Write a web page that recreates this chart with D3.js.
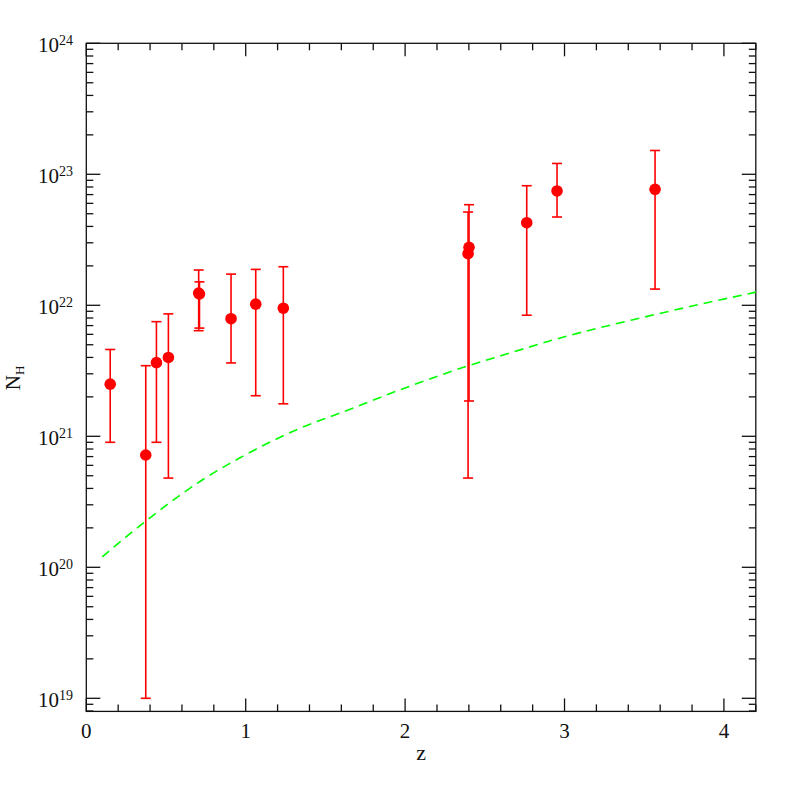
<!DOCTYPE html>
<html>
<head>
<meta charset="utf-8">
<title></title>
<script src="https://cdn.jsdelivr.net/npm/d3@7"></script>
<style>
  body { margin: 0; background: #fff; }
  .lab { font-family: "Liberation Serif", "DejaVu Serif", serif; fill: #111; }
</style>
</head>
<body>
<script>
// canvas
var width = 797, height = 797;
var plot = {left: 86.3, right: 755.8, top: 43.3, bottom: 711.4};

// data
var z    = [0.15, 0.373, 0.44, 0.515, 0.705, 0.71, 0.908, 1.063, 1.236, 2.395, 2.401, 2.763, 2.953, 3.568];
var nh   = [2.5e21, 7.2e20, 3.65e21, 4.0e21, 1.24e22, 1.22e22, 7.9e21, 1.02e22, 9.5e21, 2.48e22, 2.77e22, 4.27e22, 7.46e22, 7.68e22];
var nhLo = [9.0e20, 1.0e19, 9.0e20, 4.8e20, 6.4e21, 6.7e21, 3.63e21, 2.04e21, 1.77e21, 4.8e20, 1.86e21, 8.4e21, 4.72e22, 1.33e22];
var nhHi = [4.6e21, 3.46e21, 7.5e21, 8.6e21, 1.86e22, 1.51e22, 1.73e22, 1.88e22, 1.97e22, 5.15e22, 5.86e22, 8.18e22, 1.21e23, 1.52e23];

// dashed green curve
var curveZ  = [0.1, 0.37, 0.745, 1.0, 1.34, 1.62, 2.0, 2.4, 2.6, 3.0, 3.5, 4.2];
var curveNH = [1.2e20, 2.24e20, 4.79e20, 7.24e20, 1.15e21, 1.55e21, 2.34e21, 3.47e21, 4.12e21, 5.75e21, 8.13e21, 1.26e22];

// tick labels
var xTicks = [0, 1, 2, 3, 4];
var yExp   = [19, 20, 21, 22, 23, 24];

var svg = d3.select("body").append("svg")
    .attr("width", width)
    .attr("height", height);

var x = d3.scaleLinear().domain([0, 4.2]).range([plot.left, plot.right]);
var y = d3.scaleLog().domain([Math.pow(10, 18.9), 1e24]).range([plot.bottom, plot.top]);

// frame
svg.append("rect")
    .attr("x", plot.left).attr("y", plot.top)
    .attr("width", plot.right - plot.left)
    .attr("height", plot.bottom - plot.top)
    .attr("fill", "none").attr("stroke", "#111").attr("stroke-width", 1.3);

// ticks on all four sides
var xMinor = d3.range(0, 4.21, 0.2).filter(function(v){ return Math.abs(v - Math.round(v)) > 1e-6; });
var yMinor = [];
d3.range(18, 24).forEach(function(e){
  d3.range(2, 10).forEach(function(m){
    var v = m * Math.pow(10, e);
    if (v > y.domain()[0] && v < 1e24) yMinor.push(v);
  });
});
var yMajor = yExp.map(function(e){ return Math.pow(10, e); });

var tk = svg.append("g").attr("stroke", "#111").attr("stroke-width", 1.3);
function xt(vals, len) {
  vals.forEach(function(v){
    tk.append("line").attr("x1", x(v)).attr("x2", x(v)).attr("y1", plot.bottom).attr("y2", plot.bottom - len);
    tk.append("line").attr("x1", x(v)).attr("x2", x(v)).attr("y1", plot.top).attr("y2", plot.top + len);
  });
}
function yt(vals, len) {
  vals.forEach(function(v){
    tk.append("line").attr("y1", y(v)).attr("y2", y(v)).attr("x1", plot.left).attr("x2", plot.left + len);
    tk.append("line").attr("y1", y(v)).attr("y2", y(v)).attr("x1", plot.right).attr("x2", plot.right - len);
  });
}
xt(xTicks, 13); xt(xMinor, 7);
yt(yMajor, 14); yt(yMinor, 7);

// tick labels
svg.selectAll(".xl").data(xTicks).enter().append("text")
    .attr("class", "lab xl")
    .attr("x", function(d){ return x(d); })
    .attr("y", 738)
    .attr("text-anchor", "middle")
    .attr("font-size", 21)
    .text(function(d){ return d; });

var yl = svg.selectAll(".yl").data(yExp).enter().append("text")
    .attr("class", "lab yl")
    .attr("x", 73)
    .attr("y", function(d){ return y(Math.pow(10, d)) + 8.5; })
    .attr("text-anchor", "end")
    .attr("font-size", 21);
yl.append("tspan").text("10");
yl.append("tspan").attr("font-size", 14).attr("dy", -7).text(function(d){ return d; });

// axis titles
var yt2 = svg.append("text").attr("class", "lab")
    .attr("transform", "translate(20,378) rotate(-90)")
    .attr("text-anchor", "middle")
    .attr("font-size", 21);
yt2.append("tspan").text("N");
yt2.append("tspan").attr("font-size", 13).attr("dy", 4).text("H");

svg.append("text").attr("class", "lab")
    .attr("x", x(2.1)).attr("y", 760)
    .attr("text-anchor", "middle")
    .attr("font-size", 22)
    .text("z");

// green dashed curve
var line = d3.line()
    .x(function(d){ return x(d[0]); })
    .y(function(d){ return y(d[1]); })
    .curve(d3.curveMonotoneX);
svg.append("path")
    .attr("d", line(d3.zip(curveZ, curveNH)))
    .attr("fill", "none")
    .attr("stroke", "#00ff00")
    .attr("stroke-width", 1.6)
    .attr("stroke-dasharray", "9,6");

// error bars and points
var pts = d3.range(z.length);
var eb = svg.append("g").attr("stroke", "#ff0000").attr("stroke-width", 1.6);
pts.forEach(function(i){
  eb.append("line").attr("x1", x(z[i])).attr("x2", x(z[i])).attr("y1", y(nhLo[i])).attr("y2", y(nhHi[i]));
  eb.append("line").attr("x1", x(z[i]) - 5).attr("x2", x(z[i]) + 5).attr("y1", y(nhLo[i])).attr("y2", y(nhLo[i]));
  eb.append("line").attr("x1", x(z[i]) - 5).attr("x2", x(z[i]) + 5).attr("y1", y(nhHi[i])).attr("y2", y(nhHi[i]));
});
svg.selectAll(".pt").data(pts).enter().append("circle")
    .attr("class", "pt")
    .attr("cx", function(i){ return x(z[i]); })
    .attr("cy", function(i){ return y(nh[i]); })
    .attr("r", 5.8)
    .attr("fill", "#ff0000");
</script>
</body>
</html>
